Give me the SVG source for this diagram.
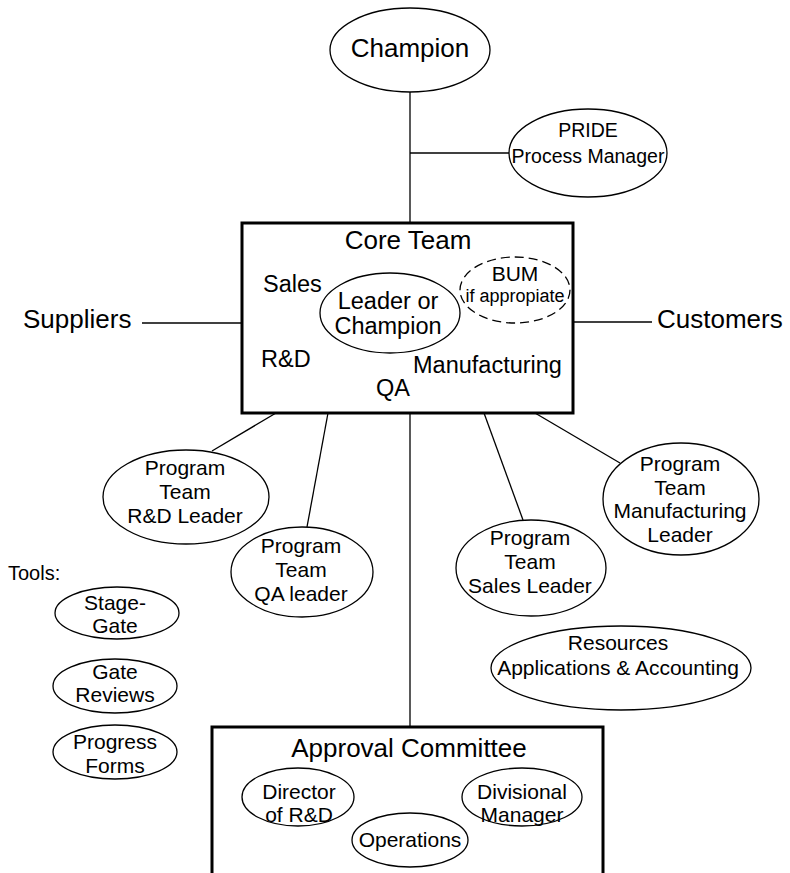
<svg xmlns="http://www.w3.org/2000/svg" width="790" height="873" viewBox="0 0 790 873">
<style>
text{font-family:"Liberation Sans",Arial,sans-serif;fill:#000;text-anchor:middle}
.n{fill:#fff;stroke:#000;stroke-width:1.3}
.d{fill:none;stroke:#000;stroke-width:1.3;stroke-dasharray:9 5}
.b{fill:#fff;stroke:#000;stroke-width:3}
.c line{stroke:#000;stroke-width:1.3}
.f26{font-size:26px}.f24{font-size:23.5px}.f21{font-size:21px}.f20{font-size:20px}.f19{font-size:19.5px}.f18{font-size:18px}
.l{text-anchor:start}
</style>
<rect width="790" height="873" fill="#fff"/>
<g id="connectors" class="c">
<line x1="410" y1="92" x2="410" y2="223"/>
<line x1="410" y1="153" x2="509" y2="153"/>
<line x1="142" y1="323" x2="242" y2="323"/>
<line x1="573" y1="322" x2="652" y2="322"/>
<line x1="276" y1="413" x2="212" y2="451"/>
<line x1="328" y1="413" x2="307" y2="527"/>
<line x1="410" y1="413" x2="410" y2="727"/>
<line x1="484" y1="413" x2="523" y2="520"/>
<line x1="535" y1="413" x2="620" y2="463"/>
</g>
<g id="champion"><ellipse class="n" cx="410" cy="50" rx="80" ry="42"/><text class="f26" x="410" y="57">Champion</text></g>
<g id="pride"><ellipse class="n" cx="588" cy="153" rx="79" ry="44"/><text class="f19" x="588" y="137">PRIDE</text><text class="f19" x="588" y="163">Process Manager</text></g>
<g id="core-team">
<rect class="b" x="242" y="223" width="331" height="190"/>
<text class="f26" x="408" y="249">Core Team</text>
<text class="f24 l" x="263" y="292">Sales</text>
<text class="f24 l" x="261" y="367">R&amp;D</text>
<text class="f24 l" x="413" y="373">Manufacturing</text>
<text class="f24 l" x="376" y="396">QA</text>
<g id="leader"><ellipse class="n" cx="390" cy="313" rx="70" ry="40"/><text class="f24" x="388" y="309">Leader or</text><text class="f24" x="388" y="334">Champion</text></g>
<g id="bum"><ellipse class="d" cx="515" cy="290" rx="55" ry="33"/><text class="f21" x="515" y="281">BUM</text><text class="f18" x="515" y="302">if appropiate</text></g>
</g>
<g id="suppliers"><text class="f26 l" x="23" y="328">Suppliers</text></g>
<g id="customers"><text class="f26 l" x="657" y="328">Customers</text></g>
<g id="rd-leader"><ellipse class="n" cx="186" cy="497" rx="83" ry="47"/><text class="f21" x="185" y="475">Program</text><text class="f21" x="185" y="499">Team</text><text class="f21" x="185" y="523">R&amp;D Leader</text></g>
<g id="qa-leader"><ellipse class="n" cx="302" cy="572" rx="71" ry="45"/><text class="f21" x="301" y="553">Program</text><text class="f21" x="301" y="577">Team</text><text class="f21" x="301" y="601">QA leader</text></g>
<g id="sales-leader"><ellipse class="n" cx="531" cy="568" rx="75" ry="48"/><text class="f21" x="530" y="545">Program</text><text class="f21" x="530" y="569">Team</text><text class="f21" x="530" y="593">Sales Leader</text></g>
<g id="mfg-leader"><ellipse class="n" cx="681" cy="499" rx="78" ry="56"/><text class="f21" x="680" y="471">Program</text><text class="f21" x="680" y="495">Team</text><text class="f21" x="680" y="518">Manufacturing</text><text class="f21" x="680" y="542">Leader</text></g>
<g id="resources"><ellipse class="n" cx="621" cy="668" rx="130" ry="42"/><text class="f21" x="618" y="650">Resources</text><text class="f21" x="618" y="675">Applications &amp; Accounting</text></g>
<g id="tools"><text class="f20 l" x="8" y="580">Tools:</text></g>
<g id="stage-gate"><ellipse class="n" cx="117" cy="613" rx="62" ry="26"/><text class="f21" x="115" y="610">Stage-</text><text class="f21" x="115" y="633">Gate</text></g>
<g id="gate-reviews"><ellipse class="n" cx="115" cy="686" rx="62" ry="27"/><text class="f21" x="115" y="679">Gate</text><text class="f21" x="115" y="702">Reviews</text></g>
<g id="progress-forms"><ellipse class="n" cx="115" cy="752" rx="62" ry="27"/><text class="f21" x="115" y="749">Progress</text><text class="f21" x="115" y="773">Forms</text></g>
<g id="approval-committee">
<rect class="b" x="212" y="727" width="391" height="160"/>
<text class="f26" x="409" y="757">Approval Committee</text>
<g id="director"><ellipse class="n" cx="298" cy="797" rx="56" ry="29"/><text class="f21" x="299" y="799">Director</text><text class="f21" x="299" y="822">of R&amp;D</text></g>
<g id="operations"><ellipse class="n" cx="410" cy="840" rx="58" ry="27"/><text class="f21" x="410" y="847">Operations</text></g>
<g id="divisional"><ellipse class="n" cx="522" cy="797" rx="60" ry="29"/><text class="f21" x="522" y="799">Divisional</text><text class="f21" x="522" y="822">Manager</text></g>
</g>
</svg>
